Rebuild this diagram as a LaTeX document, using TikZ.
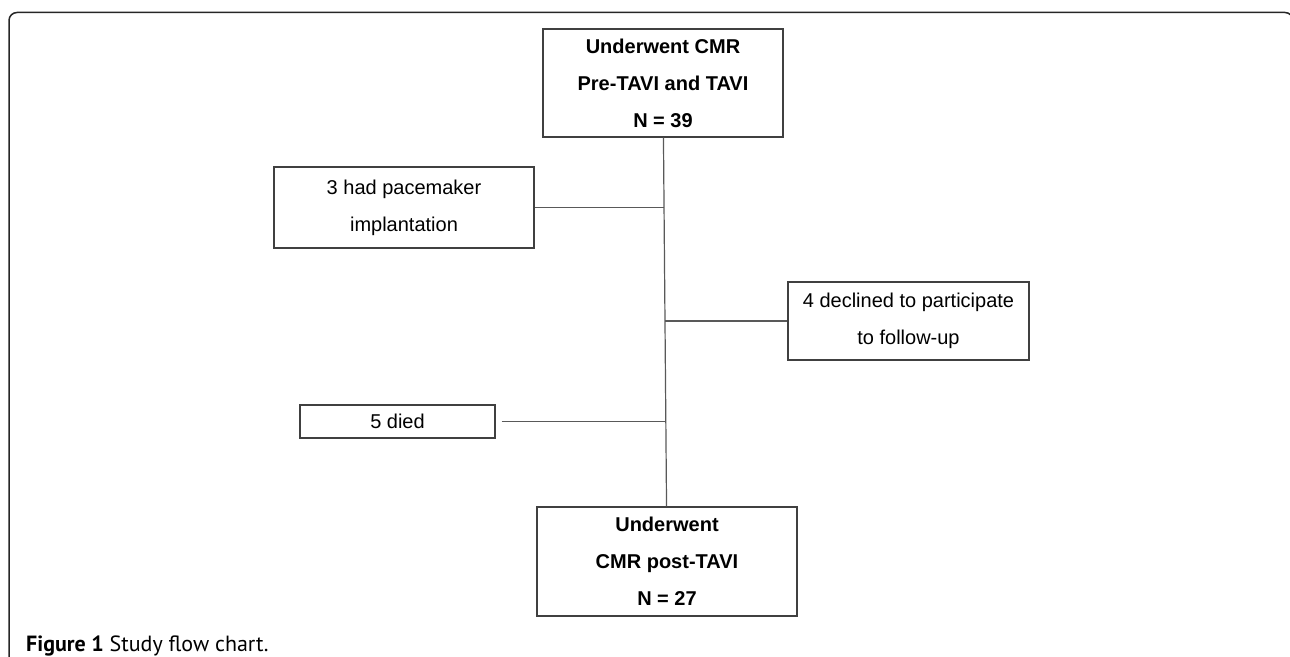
\documentclass[tikz,border=0pt]{standalone}
\usepackage{fontspec}
\setmainfont{Liberation Sans}
\newfontfamily\capfont{PT Sans}
\usepackage{tikz}

\begin{document}
\begin{tikzpicture}[x=1bp,y=-1bp,
  box/.style={draw=black!75, line width=1.2bp, align=center, inner sep=0pt,
    font=\fontsize{20bp}{37bp}\selectfont},
  headbox/.style={box, font=\fontsize{20bp}{37bp}\selectfont\bfseries},
  link/.style={draw=black!65, line width=1.2bp}]
\useasboundingbox (0,0) rectangle (1290,657);
\draw[black!85, line width=1.5bp, rounded corners=8bp] (9,670) -- (9,12.5) -- (1293,12.5) -- (1293,670);
\node[headbox, minimum width=240bp, minimum height=108bp] (1) at (663,83) {Underwent CMR\\Pre-TAVI and TAVI\\N = 39};
\node[box, minimum width=260bp, minimum height=81bp] (2) at (404,207.5) {3 had pacemaker\\implantation};
\node[box, minimum width=241bp, minimum height=78bp] (3) at (908.5,321) {4 declined to participate\\to follow-up};
\node[box, minimum width=195bp, minimum height=33bp] (4) at (397.5,421.5) {5 died};
\node[headbox, minimum width=260bp, minimum height=109bp] (5) at (667,561.5) {Underwent\\CMR post-TAVI\\N = 27};
\coordinate (j1) at (663.8,207.5);
\coordinate (j2) at (665,321);
\coordinate (j3) at (666.1,421.5);
\path[link] (1) -- (5);
\path[link] (2) -- (j1);
\path[link] (j2) -- (3);
\path[link] ([xshift=6bp]4.east) -- (j3);
\node[anchor=base west, inner sep=0pt, font=\capfont\fontsize{22bp}{26bp}\selectfont] (cap) at (26,651) {\textbf{Figure 1} Study flow chart.};
\end{tikzpicture}
\end{document}
